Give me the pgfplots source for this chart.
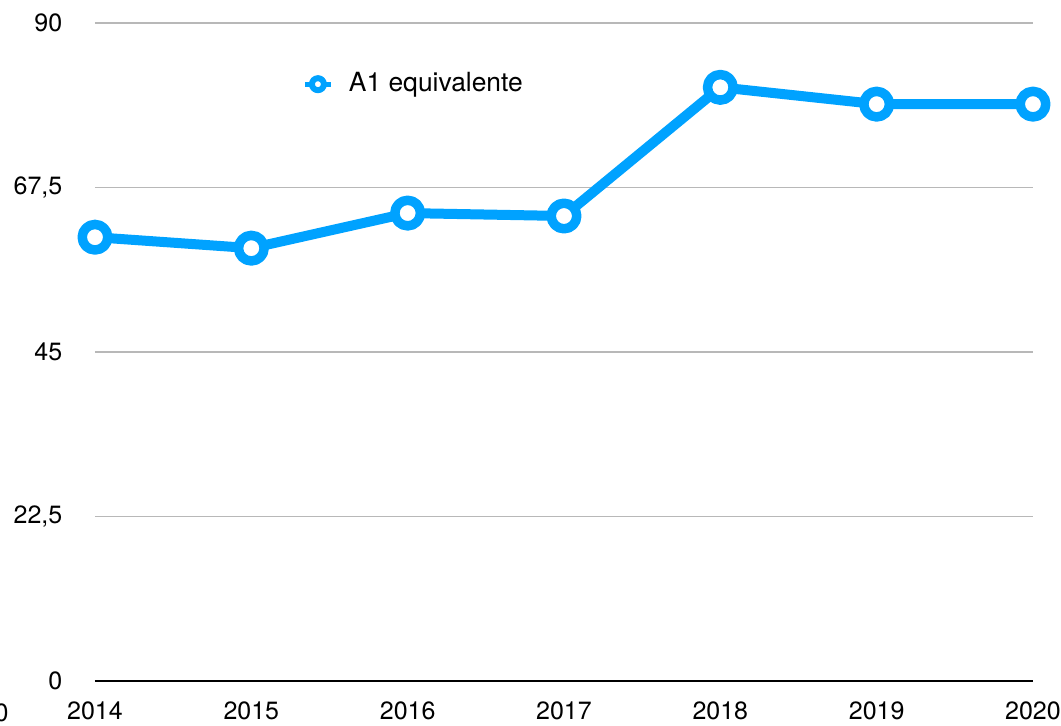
\documentclass[border=0pt]{standalone}
\usepackage{pgfplots}
\pgfplotsset{compat=1.18}
\usepackage{fontspec}
\setmainfont{TeX Gyre Heros}
\definecolor{lineblue}{HTML}{00A2FF}
\begin{document}
\fontsize{12.5}{15}\selectfont
\begin{tikzpicture}
\begin{axis}[
  at={(0,0)}, anchor=south west,
  scale only axis, width=469pt, height=329pt,
  xmin=2014, xmax=2020, ymin=0, ymax=90,
  xtick={2014,2015,2016,2017,2018,2019,2020},
  xticklabels={2014,2015,2016,2017,2018,2019,2020},
  ytick={0,22.5,45,67.5,90},
  yticklabels={0,{22,5},45,{67,5},90},
  major tick length=0pt,
  ymajorgrids, grid style={color=black!28, line width=0.8pt},
  axis x line*=bottom, axis y line*=left,
  y axis line style={draw=none},
  x axis line style={-, line width=1pt, black},
  yticklabel style={anchor=east, xshift=-12pt},
  xticklabel style={yshift=-6pt},
  tick label style={font=\fontsize{12.5}{15}\selectfont},
  clip=false,
  legend style={at={(0.2207,0.907)}, anchor=west, draw=none, fill=none, inner sep=0pt,
    nodes={inner sep=0pt, font=\fontsize{13.2}{16}\selectfont}},
  legend cell align=left,
  legend image code/.code={
    \path[draw=none] (0pt,0pt) -- (22pt,0pt);
    \draw[lineblue, line width=2.5pt] (0pt,0pt) -- (13pt,0pt);
    \draw[lineblue, fill=white, line width=3pt] (6.5pt,0pt) circle (3pt);
  },
]
\addplot[lineblue, line width=5pt, line join=round,
  mark=*, mark size=6.4pt,
  mark options={fill=white, draw=lineblue, line width=4.75pt}]
  coordinates {(2014,60.7) (2015,59.2) (2016,64.0) (2017,63.6) (2018,81.2) (2019,78.9) (2020,78.9)};
\addlegendentry{A1 equivalente}
\end{axis}
\node[anchor=base east, inner sep=0pt] at (-43pt,-20.5pt) {0};
\pgfresetboundingbox
\path[use as bounding box] (-47.5pt,-22.5pt) rectangle (483pt,340.5pt);
\end{tikzpicture}
\end{document}
